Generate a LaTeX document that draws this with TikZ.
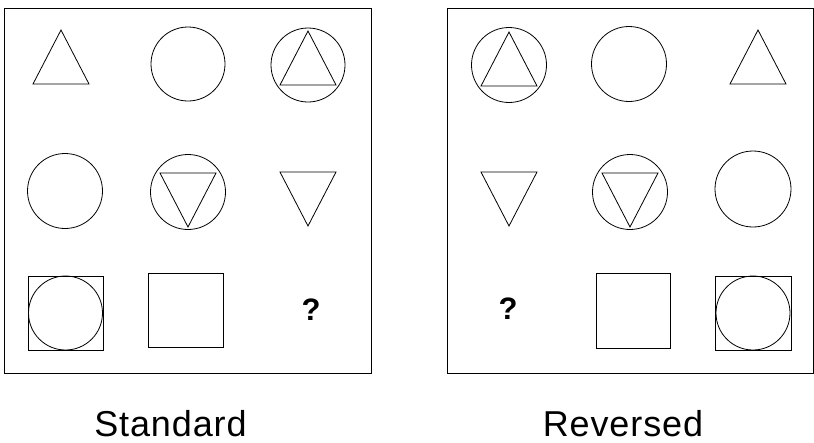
\documentclass[tikz,border=0pt]{standalone}
\usepackage{fontspec}
\setmainfont{Liberation Sans}
\newfontfamily\captionfont[LetterSpace=2.5]{Liberation Sans}
\tikzset{
    shape line/.style={line width=0.8pt, black},
    frame line/.style={line width=0.9pt, black},
    pics/uptri/.style={code={
        \draw[shape line] (0,-27) -- (28,27) -- (-28,27) -- cycle;
    }},
    pics/downtri/.style={code={
        \draw[shape line] (0,27) -- (28,-27) -- (-28,-27) -- cycle;
    }},
    mark text/.style={font=\fontsize{31}{31}\selectfont\bfseries, inner sep=0pt},
    panel title/.style={font=\captionfont\fontsize{36}{36}\selectfont, anchor=base, inner sep=0pt}
}
\begin{document}
\begin{tikzpicture}[x=1pt, y=-1pt]
    \useasboundingbox (0,0) rectangle (814,442);
    % standard panel
    \draw[frame line] (4,8) rectangle (371,373);
    \pic at (61,57) {uptri};
    \draw[shape line] (188,64) circle (37);
    \draw[shape line] (308,65) circle (37);
    \pic at (308,58) {uptri};
    \draw[shape line] (65,191) circle (37.5);
    \draw[shape line] (188,192) circle (37.5);
    \pic at (188,200) {downtri};
    \pic at (308,199) {downtri};
    \draw[shape line] (28,276) rectangle (103,350);
    \draw[shape line] (65.5,313) circle (37);
    \draw[shape line] (148,273) rectangle (223,347);
    \node[mark text] (qstd) at (311,310) {?};
    % reversed panel
    \draw[frame line] (447,8) rectangle (813,373);
    \draw[shape line] (509,65) circle (37.5);
    \pic at (509,59) {uptri};
    \draw[shape line] (629,64) circle (37.5);
    \pic at (758,57) {uptri};
    \pic at (509,199) {downtri};
    \draw[shape line] (630,192) circle (37.5);
    \pic at (630,200) {downtri};
    \draw[shape line] (753,189) circle (38);
    \node[mark text] (qrev) at (508,308.5) {?};
    \draw[shape line] (596,273) rectangle (670,348);
    \draw[shape line] (715,276) rectangle (791,350);
    \draw[shape line] (753,313) circle (37);
    % titles
    \node[panel title] (standard) at (170.5,436) {Standard};
    \node[panel title] (reversed) at (623,436) {Reversed};
\end{tikzpicture}
\end{document}
